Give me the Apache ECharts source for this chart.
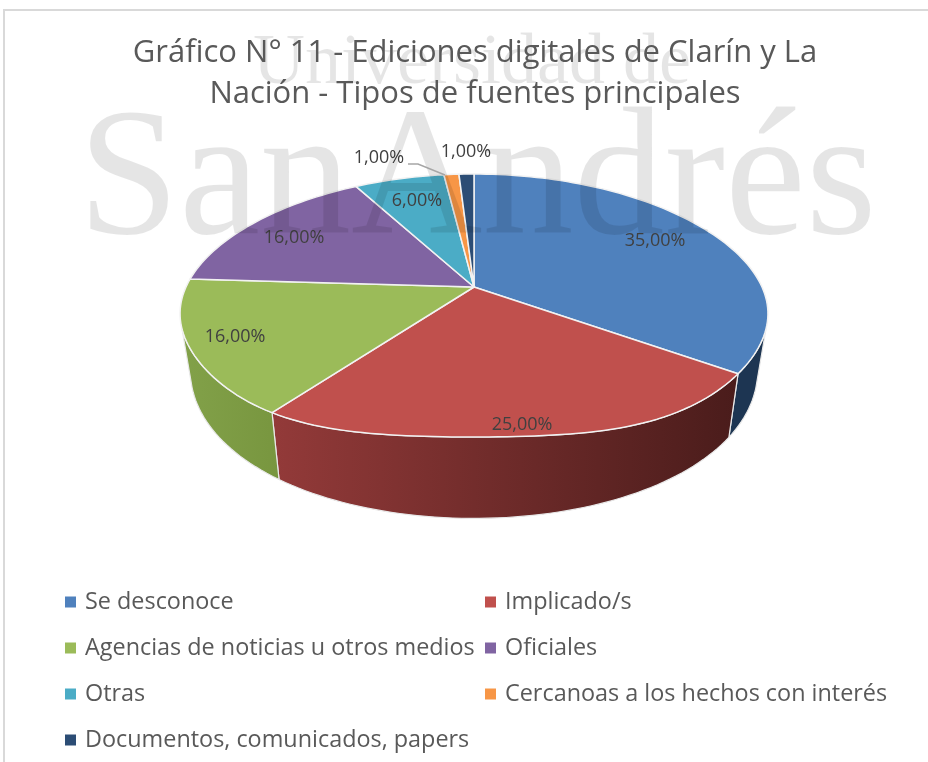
<!DOCTYPE html>
<html><head><meta charset="utf-8">
<style>html,body{margin:0;padding:0;background:#fff}#c{width:928px;height:762px}</style>
<script src="https://cdn.jsdelivr.net/npm/echarts@6/dist/echarts.min.js"></script>
</head><body><div id="c"></div>
<script>
const categories = ['Se desconoce','Implicado/s','Agencias de noticias u otros medios','Oficiales','Otras','Cercanoas a los hechos con interés','Documentos, comunicados, papers'];
const values = [35,25,16,16,6,1,1];
const colors = ['#4f81bd','#c0504d','#9bbb59','#8064a2','#4bacc6','#f79646','#2c4d75'];
const wallColors = [['#1d3552','#1d3552'],['#933a39','#4a1c1b'],['#82a149','#78963f'],null,null,null,null];
const labelPos = [[655,241],[522,425],[235,337],[294,238],[417,201],[379,158],[466,152]];
const titleText = 'Gráfico N° 11 - Ediciones digitales de Clarín y La\nNación - Tipos de fuentes principales';
const FONT = '"Open Sans", sans-serif';

// perspective projection of the tilted disc
const CX = 474, TOPY = 287, BOTY = 338, PX = 0.2, PY = 0.1407;
const MX = 288, KY = 128.9, MX2 = 278, KY2 = 155;
const WALL_FROM = 108, WALL_TO = 252; // visible wall angles
function project(deg, bottom){
  const t = deg*Math.PI/180, X = Math.sin(t), Y = Math.cos(t);
  const dx = 1+PX*Y, dy = 1+PY*Y;
  if (bottom) return [CX+MX2*X/dx, BOTY-KY2*Y/dy];
  const bulge = Y<0 ? 54*Y*Y*Y*Y*(1-Y*Y) : 0;
  return [CX+MX*X/dx, TOPY-KY*Y/dy+bulge];
}
function arc(a,b,bottom){
  const pts=[], n=Math.max(2,Math.ceil(Math.abs(b-a)/1.5));
  for(let i=0;i<=n;i++) pts.push(project(a+(b-a)*i/n,bottom));
  return pts;
}
const total = values.reduce((s,v)=>s+v,0);
function startAngle(i){ return values.slice(0,i).reduce((s,v)=>s+v,0)/total*360; }

function makeRender(i){
  return function(params, api){
    const a0 = startAngle(i), a1 = a0 + api.value(0)/total*360;
    const children = [];
    const wa = Math.max(a0,WALL_FROM), wb = Math.min(a1,WALL_TO);
    if (wb > wa && wallColors[i]) {
      const top = arc(wa,wb,false), bot = arc(wa,wb,true).reverse();
      const xs = top.concat(bot).map(p=>p[0]);
      const x0 = Math.min(...xs), x1 = Math.max(...xs);
      children.push({type:'polygon', shape:{points:top.concat(bot)},
        style:{fill:new echarts.graphic.LinearGradient(x0,0,x1,0,
          [{offset:0,color:wallColors[i][0]},{offset:1,color:wallColors[i][1]}],true),
          stroke:'#e8e8e8',lineWidth:1.2,lineJoin:'round'}});
    }
    children.push({type:'polygon', shape:{points:[[CX,TOPY]].concat(arc(a0,a1,false))},
      style:{fill:colors[i],stroke:'#f2f2f2',lineWidth:1.5,lineJoin:'round'}});
    children.push({type:'text', z2:20, style:{
      x:labelPos[i][0], y:labelPos[i][1], text:api.value(0).toFixed(2).replace('.',',')+'%',
      align:'center', verticalAlign:'middle', fill:'#404040', font:'18px '+FONT}});
    return {type:'group', children};
  };
}

const chart = echarts.init(document.getElementById('c'));
const legendBase = {orient:'vertical', top:590, itemWidth:11, itemHeight:11, itemGap:22, icon:'rect',
  textStyle:{color:'#595959',fontFamily:FONT,fontSize:23.4,lineHeight:24,padding:[0,0,0,4]}, padding:0, z:200, selectedMode:false};
chart.setOption({
  animation:false,
  backgroundColor:'#ffffff',
  title:{text:titleText,left:470,textAlign:'center',top:28,z:200,
    textStyle:{color:'#595959',fontFamily:FONT,fontSize:31,fontWeight:'normal',lineHeight:41}},
  legend:[
    Object.assign({left:65,data:categories.filter((c,i)=>i%2===0)},legendBase),
    Object.assign({left:485,data:categories.filter((c,i)=>i%2===1)},legendBase)
  ],
  graphic:[
    {type:'rect',z:0,shape:{x:4,y:10,width:940,height:780},style:{fill:'none',stroke:'#d9d9d9',lineWidth:2}},
    {type:'text',z:50,silent:true,style:{x:472,y:28,text:'Universidad de',align:'center',verticalAlign:'top',
      fill:'rgba(0,0,0,0.1)',font:'72px "Liberation Serif", serif'}},
    {type:'text',z:50,silent:true,style:{x:78,y:94,text:'San',align:'left',verticalAlign:'top',
      fill:'rgba(0,0,0,0.1)',font:'182px "Liberation Serif", serif'}},
    {type:'text',z:50,silent:true,style:{x:351,y:94,text:'Andrés',align:'left',verticalAlign:'top',
      fill:'rgba(0,0,0,0.1)',font:'182px "Liberation Serif", serif'}},
    {type:'polyline',z:60,silent:true,shape:{points:[[408,164],[418,164],[445,175]]},style:{fill:'none',stroke:'#a6a6a6',lineWidth:1.5}}
  ],
  series:categories.map((name,i)=>({
    type:'custom',name,coordinateSystem:'none',z:2,
    itemStyle:{color:colors[i]},
    data:[[values[i]]],
    renderItem:makeRender(i)
  }))
});
</script></body></html>
